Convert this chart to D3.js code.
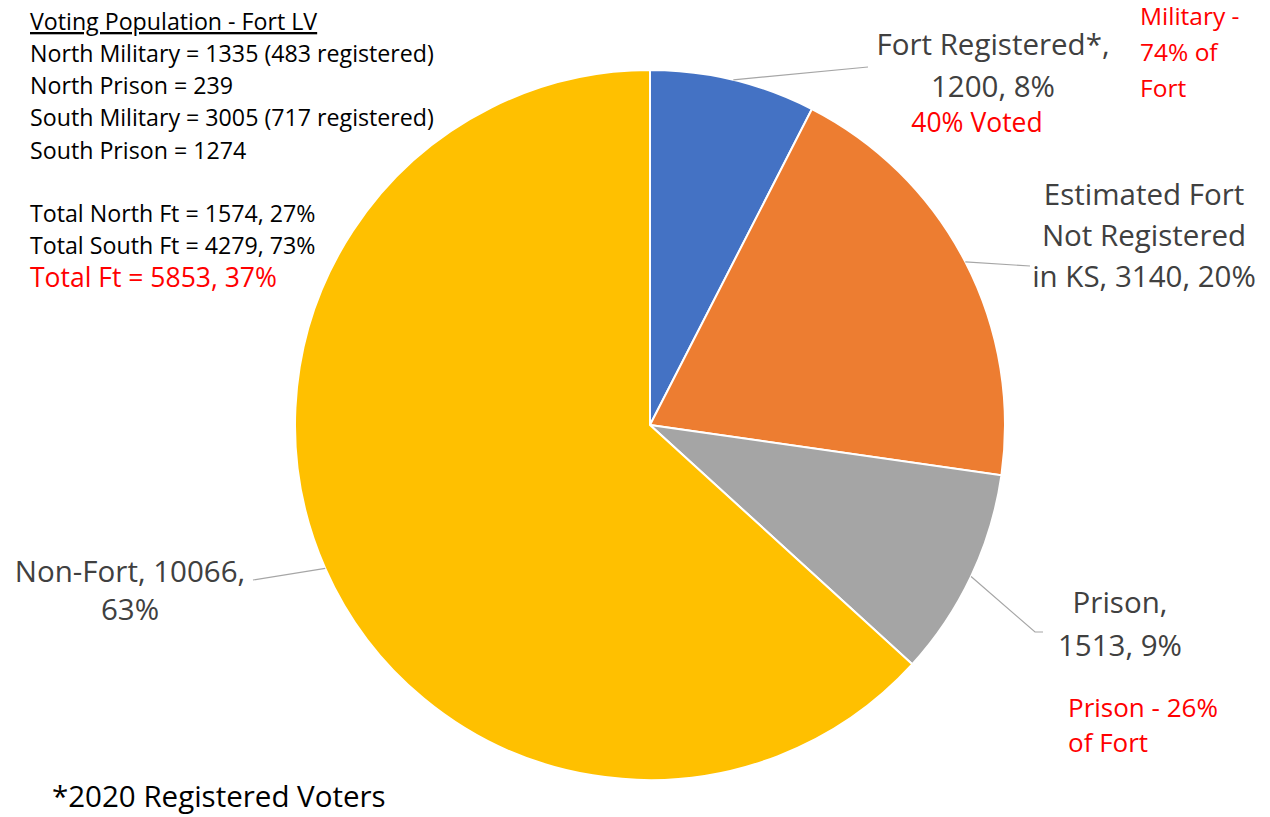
<!DOCTYPE html>
<html><head><meta charset="utf-8">
<script src="https://cdn.jsdelivr.net/npm/d3@7"></script>
<style>
body{margin:0;background:#fff;}
svg{font-family:"Open Sans",Lato,sans-serif;}
</style></head><body>
<svg id="c" width="1270" height="817"></svg>
<script>
const categories = ["Fort Registered*", "Estimated Fort Not Registered in KS", "Prison", "Non-Fort"];
const values = [1200, 3140, 1513, 10066];
const percents = ["8%", "20%", "9%", "63%"];
const colors = ["#4472C4", "#ED7D31", "#A5A5A5", "#FFC000"];
const labelLines = [
  ["Fort Registered*,", "1200, 8%"],
  ["Estimated Fort", "Not Registered", "in KS, 3140, 20%"],
  ["Prison,", "1513, 9%"],
  ["Non-Fort, 10066,", "63%"]
];
const infoLines = [
  "North Military = 1335 (483 registered)",
  "North Prison = 239",
  "South Military = 3005 (717 registered)",
  "South Prison = 1274"
];
const totalLines = ["Total North Ft = 1574, 27%", "Total South Ft = 4279, 73%"];
const totalFt = "Total Ft = 5853, 37%";

const svg = d3.select("#c");
const cx = 650, cy = 425, r = 355;
const g = svg.append("g").attr("transform", `translate(${cx},${cy})`);
const pie = d3.pie().sort(null).value(d => d);
const arcs = pie(values);
const arc = d3.arc().innerRadius(0).outerRadius(r);
const edge = d3.arc().innerRadius(r).outerRadius(r);

g.selectAll("path.slice").data(arcs).enter().append("path")
  .attr("d", arc).attr("fill", (d, i) => colors[i])
  .attr("stroke", "#fff").attr("stroke-width", 2);

const lab = [
  {x: 993, y: 55, lh: 42, end: [[868, 67]]},
  {x: 1144, y: 205, lh: 41, end: [[1030, 266]]},
  {x: 1120, y: 613, lh: 43, end: [[1035, 632], [1043, 632]]},
  {x: 130, y: 582, lh: 38, end: [[253, 580]]}
];
arcs.forEach((d, i) => {
  const p = edge.centroid(d);
  const pts = [[cx + p[0], cy + p[1]]].concat(lab[i].end);
  svg.append("path").attr("d", d3.line()(pts)).attr("fill", "none")
    .attr("stroke", "#A6A6A6").attr("stroke-width", 1.2);
  const t = svg.append("text").attr("text-anchor", "middle")
    .attr("font-size", 29.5).attr("fill", "#404040");
  labelLines[i].forEach((s, k) => {
    t.append("tspan").attr("x", lab[i].x).attr("y", lab[i].y + k * lab[i].lh).text(s);
  });
});

function redText(lines, x, y, lh, size, anchor) {
  const t = svg.append("text").attr("fill", "#FF0000").attr("font-size", size)
    .attr("text-anchor", anchor || "start");
  lines.forEach((s, k) => t.append("tspan").attr("x", x).attr("y", y + k * lh).text(s));
}
redText(["40% Voted"], 977, 132, 0, 26.5, "middle");
redText(["Military -", "74% of", "Fort"], 1140, 25, 36, 24.5);
redText(["Prison - 26%", "of Fort"], 1068, 717, 35, 26);

svg.append("text").attr("x", 30).attr("y", 30).attr("font-size", 23.2).attr("fill", "#000")
  .attr("text-decoration", "underline").text("Voting Population - Fort LV");
infoLines.forEach((s, k) => svg.append("text").attr("x", 30).attr("y", 62 + k * 32.2)
  .attr("font-size", 23.2).attr("fill", "#000").text(s));
totalLines.forEach((s, k) => svg.append("text").attr("x", 30).attr("y", 222 + k * 32)
  .attr("font-size", 23.2).attr("fill", "#000").text(s));
svg.append("text").attr("x", 30).attr("y", 287).attr("font-size", 26.5).attr("fill", "#FF0000").text(totalFt);

svg.append("text").attr("x", 52).attr("y", 807).attr("font-size", 29.5).attr("fill", "#000")
  .text("*2020 Registered Voters");
</script>
</body></html>
